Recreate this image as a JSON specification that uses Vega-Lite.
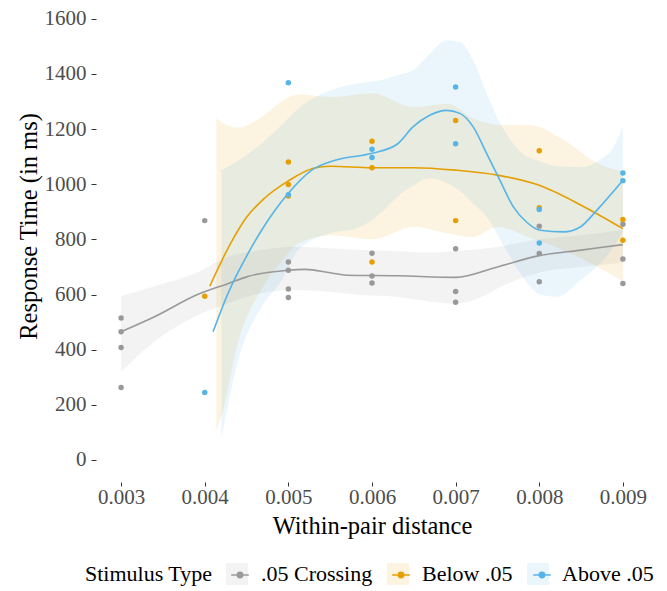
{
  "$schema": "https://vega.github.io/schema/vega-lite/v6.json",
  "width": 552,
  "height": 477,
  "autosize": {"type": "none"},
  "padding": {"left": 96, "top": 5, "right": 19, "bottom": 109},
  "background": "#ffffff",
  "datasets": {
    "pts": [
      {"x": 0.003, "rt": 515, "type": ".05 Crossing"},
      {"x": 0.003, "rt": 465, "type": ".05 Crossing"},
      {"x": 0.003, "rt": 408, "type": ".05 Crossing"},
      {"x": 0.003, "rt": 263, "type": ".05 Crossing"},
      {"x": 0.004, "rt": 868, "type": ".05 Crossing"},
      {"x": 0.005, "rt": 718, "type": ".05 Crossing"},
      {"x": 0.005, "rt": 688, "type": ".05 Crossing"},
      {"x": 0.005, "rt": 620, "type": ".05 Crossing"},
      {"x": 0.005, "rt": 589, "type": ".05 Crossing"},
      {"x": 0.006, "rt": 750, "type": ".05 Crossing"},
      {"x": 0.006, "rt": 667, "type": ".05 Crossing"},
      {"x": 0.006, "rt": 642, "type": ".05 Crossing"},
      {"x": 0.007, "rt": 766, "type": ".05 Crossing"},
      {"x": 0.007, "rt": 611, "type": ".05 Crossing"},
      {"x": 0.007, "rt": 572, "type": ".05 Crossing"},
      {"x": 0.008, "rt": 848, "type": ".05 Crossing"},
      {"x": 0.008, "rt": 749, "type": ".05 Crossing"},
      {"x": 0.008, "rt": 646, "type": ".05 Crossing"},
      {"x": 0.009, "rt": 855, "type": ".05 Crossing"},
      {"x": 0.009, "rt": 729, "type": ".05 Crossing"},
      {"x": 0.009, "rt": 640, "type": ".05 Crossing"},
      {"x": 0.004, "rt": 594, "type": "Below .05"},
      {"x": 0.005, "rt": 1081, "type": "Below .05"},
      {"x": 0.005, "rt": 999, "type": "Below .05"},
      {"x": 0.005, "rt": 957, "type": "Below .05"},
      {"x": 0.006, "rt": 1156, "type": "Below .05"},
      {"x": 0.006, "rt": 1060, "type": "Below .05"},
      {"x": 0.006, "rt": 718, "type": "Below .05"},
      {"x": 0.007, "rt": 1231, "type": "Below .05"},
      {"x": 0.007, "rt": 868, "type": "Below .05"},
      {"x": 0.008, "rt": 1121, "type": "Below .05"},
      {"x": 0.008, "rt": 915, "type": "Below .05"},
      {"x": 0.009, "rt": 872, "type": "Below .05"},
      {"x": 0.009, "rt": 797, "type": "Below .05"},
      {"x": 0.004, "rt": 245, "type": "Above .05"},
      {"x": 0.005, "rt": 1368, "type": "Above .05"},
      {"x": 0.005, "rt": 962, "type": "Above .05"},
      {"x": 0.006, "rt": 1127, "type": "Above .05"},
      {"x": 0.006, "rt": 1097, "type": "Above .05"},
      {"x": 0.007, "rt": 1353, "type": "Above .05"},
      {"x": 0.007, "rt": 1147, "type": "Above .05"},
      {"x": 0.008, "rt": 908, "type": "Above .05"},
      {"x": 0.008, "rt": 787, "type": "Above .05"},
      {"x": 0.009, "rt": 1041, "type": "Above .05"},
      {"x": 0.009, "rt": 1013, "type": "Above .05"}
    ],
    "fit": [
      {"x": 0.003, "fit": 465, "type": ".05 Crossing"},
      {"x": 0.0034, "fit": 519, "type": ".05 Crossing"},
      {"x": 0.0039, "fit": 598, "type": ".05 Crossing"},
      {"x": 0.0043, "fit": 642, "type": ".05 Crossing"},
      {"x": 0.0045, "fit": 664, "type": ".05 Crossing"},
      {"x": 0.005, "fit": 688, "type": ".05 Crossing"},
      {"x": 0.0052, "fit": 691, "type": ".05 Crossing"},
      {"x": 0.0055, "fit": 679, "type": ".05 Crossing"},
      {"x": 0.0057, "fit": 670, "type": ".05 Crossing"},
      {"x": 0.0063, "fit": 668, "type": ".05 Crossing"},
      {"x": 0.007, "fit": 662, "type": ".05 Crossing"},
      {"x": 0.0075, "fit": 700, "type": ".05 Crossing"},
      {"x": 0.008, "fit": 741, "type": ".05 Crossing"},
      {"x": 0.0085, "fit": 761, "type": ".05 Crossing"},
      {"x": 0.009, "fit": 781, "type": ".05 Crossing"},
      {"x": 0.00406, "fit": 630, "type": "Below .05"},
      {"x": 0.0043, "fit": 780, "type": "Below .05"},
      {"x": 0.0045, "fit": 880, "type": "Below .05"},
      {"x": 0.0047, "fit": 945, "type": "Below .05"},
      {"x": 0.005, "fit": 1012, "type": "Below .05"},
      {"x": 0.0053, "fit": 1058, "type": "Below .05"},
      {"x": 0.0055, "fit": 1065, "type": "Below .05"},
      {"x": 0.006, "fit": 1060, "type": "Below .05"},
      {"x": 0.0065, "fit": 1060, "type": "Below .05"},
      {"x": 0.007, "fit": 1051, "type": "Below .05"},
      {"x": 0.0075, "fit": 1033, "type": "Below .05"},
      {"x": 0.008, "fit": 996, "type": "Below .05"},
      {"x": 0.0085, "fit": 924, "type": "Below .05"},
      {"x": 0.009, "fit": 839, "type": "Below .05"},
      {"x": 0.0041, "fit": 465, "type": "Above .05"},
      {"x": 0.00428, "fit": 605, "type": "Above .05"},
      {"x": 0.00454, "fit": 761, "type": "Above .05"},
      {"x": 0.00468, "fit": 833, "type": "Above .05"},
      {"x": 0.005, "fit": 967, "type": "Above .05"},
      {"x": 0.00528, "fit": 1051, "type": "Above .05"},
      {"x": 0.00556, "fit": 1087, "type": "Above .05"},
      {"x": 0.006, "fit": 1112, "type": "Above .05"},
      {"x": 0.0063, "fit": 1145, "type": "Above .05"},
      {"x": 0.00649, "fit": 1208, "type": "Above .05"},
      {"x": 0.00669, "fit": 1250, "type": "Above .05"},
      {"x": 0.00689, "fit": 1268, "type": "Above .05"},
      {"x": 0.00705, "fit": 1257, "type": "Above .05"},
      {"x": 0.00721, "fit": 1208, "type": "Above .05"},
      {"x": 0.00737, "fit": 1112, "type": "Above .05"},
      {"x": 0.00753, "fit": 1014, "type": "Above .05"},
      {"x": 0.00769, "fit": 918, "type": "Above .05"},
      {"x": 0.00785, "fit": 862, "type": "Above .05"},
      {"x": 0.00801, "fit": 833, "type": "Above .05"},
      {"x": 0.00829, "fit": 827, "type": "Above .05"},
      {"x": 0.00849, "fit": 845, "type": "Above .05"},
      {"x": 0.00869, "fit": 906, "type": "Above .05"},
      {"x": 0.009, "fit": 1014, "type": "Above .05"}
    ],
    "band": [
      {"x": 0.003, "lo": 320, "hi": 595, "type": ".05 Crossing"},
      {"x": 0.0034, "lo": 430, "hi": 630, "type": ".05 Crossing"},
      {"x": 0.00388, "lo": 519, "hi": 676, "type": ".05 Crossing"},
      {"x": 0.00428, "lo": 568, "hi": 737, "type": ".05 Crossing"},
      {"x": 0.00468, "lo": 605, "hi": 761, "type": ".05 Crossing"},
      {"x": 0.00508, "lo": 616, "hi": 773, "type": ".05 Crossing"},
      {"x": 0.00548, "lo": 610, "hi": 768, "type": ".05 Crossing"},
      {"x": 0.00588, "lo": 598, "hi": 761, "type": ".05 Crossing"},
      {"x": 0.00627, "lo": 592, "hi": 758, "type": ".05 Crossing"},
      {"x": 0.0067, "lo": 575, "hi": 752, "type": ".05 Crossing"},
      {"x": 0.007, "lo": 567, "hi": 758, "type": ".05 Crossing"},
      {"x": 0.0073, "lo": 590, "hi": 765, "type": ".05 Crossing"},
      {"x": 0.0075, "lo": 622, "hi": 773, "type": ".05 Crossing"},
      {"x": 0.008, "lo": 680, "hi": 800, "type": ".05 Crossing"},
      {"x": 0.0085, "lo": 700, "hi": 815, "type": ".05 Crossing"},
      {"x": 0.009, "lo": 715, "hi": 835, "type": ".05 Crossing"},
      {"x": 0.00414, "lo": 109, "hi": 1238, "type": "Below .05"},
      {"x": 0.0042, "lo": 160, "hi": 1225, "type": "Below .05"},
      {"x": 0.0044, "lo": 430, "hi": 1205, "type": "Below .05"},
      {"x": 0.00468, "lo": 620, "hi": 1244, "type": "Below .05"},
      {"x": 0.00492, "lo": 720, "hi": 1300, "type": "Below .05"},
      {"x": 0.00512, "lo": 785, "hi": 1326, "type": "Below .05"},
      {"x": 0.0055, "lo": 815, "hi": 1316, "type": "Below .05"},
      {"x": 0.006, "lo": 800, "hi": 1330, "type": "Below .05"},
      {"x": 0.0065, "lo": 846, "hi": 1280, "type": "Below .05"},
      {"x": 0.0069, "lo": 822, "hi": 1292, "type": "Below .05"},
      {"x": 0.0072, "lo": 808, "hi": 1240, "type": "Below .05"},
      {"x": 0.0075, "lo": 845, "hi": 1216, "type": "Below .05"},
      {"x": 0.0079, "lo": 805, "hi": 1214, "type": "Below .05"},
      {"x": 0.0083, "lo": 760, "hi": 1159, "type": "Below .05"},
      {"x": 0.0087, "lo": 700, "hi": 1076, "type": "Below .05"},
      {"x": 0.009, "lo": 648, "hi": 1045, "type": "Below .05"},
      {"x": 0.0042, "lo": 80, "hi": 1051, "type": "Above .05"},
      {"x": 0.0044, "lo": 362, "hi": 1085, "type": "Above .05"},
      {"x": 0.00468, "lo": 555, "hi": 1148, "type": "Above .05"},
      {"x": 0.00492, "lo": 652, "hi": 1215, "type": "Above .05"},
      {"x": 0.00512, "lo": 761, "hi": 1275, "type": "Above .05"},
      {"x": 0.0055, "lo": 822, "hi": 1340, "type": "Above .05"},
      {"x": 0.00582, "lo": 840, "hi": 1365, "type": "Above .05"},
      {"x": 0.0061, "lo": 894, "hi": 1377, "type": "Above .05"},
      {"x": 0.0063, "lo": 954, "hi": 1395, "type": "Above .05"},
      {"x": 0.00649, "lo": 995, "hi": 1413, "type": "Above .05"},
      {"x": 0.00669, "lo": 1022, "hi": 1473, "type": "Above .05"},
      {"x": 0.00689, "lo": 1005, "hi": 1522, "type": "Above .05"},
      {"x": 0.00705, "lo": 975, "hi": 1516, "type": "Above .05"},
      {"x": 0.00721, "lo": 930, "hi": 1449, "type": "Above .05"},
      {"x": 0.00737, "lo": 882, "hi": 1330, "type": "Above .05"},
      {"x": 0.00757, "lo": 780, "hi": 1200, "type": "Above .05"},
      {"x": 0.00777, "lo": 677, "hi": 1120, "type": "Above .05"},
      {"x": 0.00801, "lo": 600, "hi": 1082, "type": "Above .05"},
      {"x": 0.00821, "lo": 592, "hi": 1065, "type": "Above .05"},
      {"x": 0.00849, "lo": 652, "hi": 1062, "type": "Above .05"},
      {"x": 0.00873, "lo": 713, "hi": 1090, "type": "Above .05"},
      {"x": 0.00888, "lo": 770, "hi": 1130, "type": "Above .05"},
      {"x": 0.009, "lo": 830, "hi": 1208, "type": "Above .05"}
    ]
  },
  "layer": [
    {
      "data": {"name": "band"},
      "mark": {"type": "area", "interpolate": "monotone", "opacity": 0.12},
      "encoding": {
        "x": {"field": "x", "type": "quantitative", "scale": {"domain": [0.0027, 0.0093], "nice": false, "zero": false},
          "axis": {"title": "Within-pair distance", "values": [0.003, 0.004, 0.005, 0.006, 0.007, 0.008, 0.009], "format": ".3f", "labelFlush": false, "labelOverlap": false, "labelPadding": 0, "tickSize": 4, "titleBaseline": "alphabetic", "titleY": 51, "titleX": 276, "titleAlign": "center"}},
        "y": {"field": "lo", "type": "quantitative", "scale": {"domain": [-80, 1650], "nice": false, "zero": false},
          "axis": {"title": "Response Time (in ms)", "values": [0, 200, 400, 600, 800, 1000, 1200, 1400, 1600], "format": "d", "labelOverlap": false, "labelPadding": 5, "tickSize": 5, "titleBaseline": "alphabetic", "titleX": -60, "titleY": 221, "titleAlign": "center", "titleAngle": -90}},
        "y2": {"field": "hi"},
        "fill": {"field": "type", "type": "nominal", "scale": {"domain": [".05 Crossing", "Below .05", "Above .05"], "range": ["#999999", "#E69F00", "#56B4E9"]},
          "legend": {"orient": "none", "legendX": -11, "legendY": 558, "direction": "horizontal", "title": "Stimulus Type", "titleOrient": "left", "titleFont": "Liberation Serif", "titleFontSize": 22, "titleFontWeight": "normal", "titleColor": "#000000", "titlePadding": 13, "titleAnchor": "middle", "titleBaseline": "middle", "labelFont": "Liberation Serif", "labelFontSize": 22, "labelColor": "#000000", "labelOffset": 13, "columnPadding": 14, "symbolType": "square", "symbolSize": 484, "symbolOpacity": 0.12, "symbolStrokeWidth": 0, "padding": 0, "zindex": 1}}
      }
    },
    {
      "data": {"name": "fit"},
      "mark": {"type": "line", "interpolate": "monotone", "strokeWidth": 1.6},
      "encoding": {
        "x": {"field": "x", "type": "quantitative"},
        "y": {"field": "fit", "type": "quantitative"},
        "stroke": {"field": "type", "type": "nominal", "scale": {"domain": [".05 Crossing", "Below .05", "Above .05", "u1"], "range": ["#999999", "#E69F00", "#56B4E9", "#000000"]},
          "legend": {"values": ["Below .05"], "orient": "none", "legendX": 293, "legendY": 558, "title": null, "labelExpr": "''", "labelFontSize": 22, "labelOffset": 0, "symbolType": "M-0.8,0L0.8,0M-0.24,0A0.24,0.24,0,1,0,0.24,0A0.24,0.24,0,1,0,-0.24,0Z", "symbolSize": 484, "symbolOpacity": 1, "padding": 0, "zindex": 2,
            "encode": {"symbols": {"update": {"fill": {"scale": "stroke", "field": "value"}, "stroke": {"scale": "stroke", "field": "value"}, "strokeWidth": {"value": 1.6}, "opacity": {"value": 1}}}}}}
      }
    },
    {
      "data": {"name": "pts"},
      "mark": {"type": "point", "filled": true, "size": 30},
      "encoding": {
        "x": {"field": "x", "type": "quantitative"},
        "y": {"field": "rt", "type": "quantitative"},
        "color": {"field": "type", "type": "nominal", "scale": {"domain": [".05 Crossing", "Below .05", "Above .05", "u2"], "range": ["#999999", "#E69F00", "#56B4E9", "#000000"]},
          "legend": {"values": [".05 Crossing"], "orient": "none", "legendX": 132, "legendY": 558, "title": null, "labelExpr": "''", "labelFontSize": 22, "labelOffset": 0, "symbolType": "M-0.8,0L0.8,0M-0.24,0A0.24,0.24,0,1,0,0.24,0A0.24,0.24,0,1,0,-0.24,0Z", "symbolSize": 484, "symbolOpacity": 1, "padding": 0, "zindex": 2,
            "encode": {"symbols": {"update": {"fill": {"scale": "color", "field": "value"}, "stroke": {"scale": "color", "field": "value"}, "strokeWidth": {"value": 1.6}, "opacity": {"value": 1}}}}}},
        "opacity": {"field": "type", "type": "nominal", "scale": {"domain": [".05 Crossing", "Below .05", "Above .05", "u3", "u4"], "range": [1, 1, 1, 1, 1]},
          "legend": {"values": ["Above .05"], "orient": "none", "legendX": 434, "legendY": 558, "title": null, "labelExpr": "''", "labelFontSize": 22, "labelOffset": 0, "symbolType": "M-0.8,0L0.8,0M-0.24,0A0.24,0.24,0,1,0,0.24,0A0.24,0.24,0,1,0,-0.24,0Z", "symbolSize": 484, "symbolFillColor": "#56B4E9", "symbolStrokeColor": "#56B4E9", "symbolStrokeWidth": 1.6, "padding": 0, "zindex": 2,
            "encode": {"symbols": {"update": {"fill": {"scale": "color", "field": "value"}, "stroke": {"scale": "color", "field": "value"}, "strokeWidth": {"value": 1.6}}}}}}
      }
    }
  ],
  "config": {
    "view": {"stroke": null},
    "axis": {"grid": false, "domain": false, "tickColor": "#333333", "labelFont": "Liberation Serif", "labelFontSize": 21, "labelColor": "#4D4D4D", "titleFont": "Liberation Serif", "titleFontSize": 24.5, "titleFontWeight": "normal", "titleColor": "#000000"}
  }
}
